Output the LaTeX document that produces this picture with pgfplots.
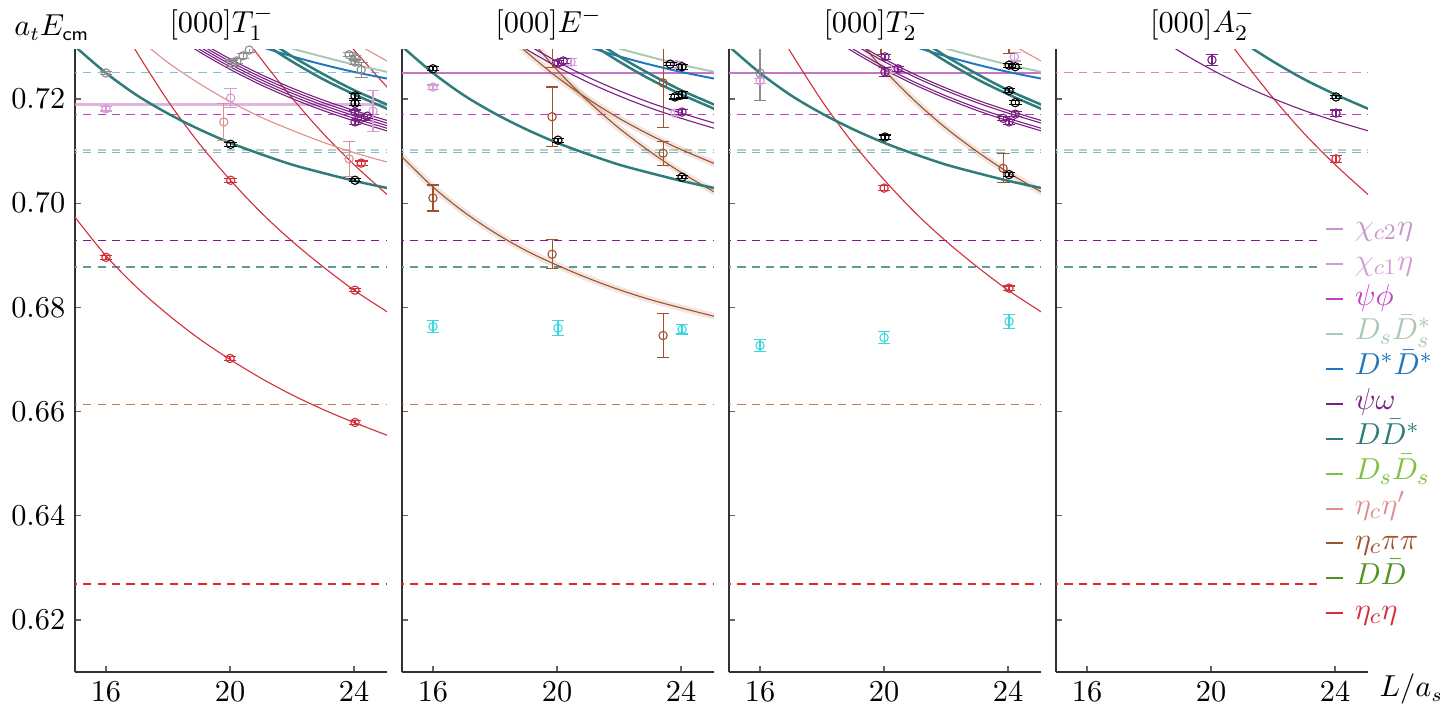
\documentclass[border=0pt]{standalone}
\usepackage{pgfplots}
\usepackage{pgfplotstable}
\pgfplotsset{compat=1.18}

% channel colours
\definecolor{chitwo}{HTML}{C994C9}
\definecolor{chione}{HTML}{D69CD6}
\definecolor{psiphi}{HTML}{C43CC4}
\definecolor{dsdsst}{HTML}{A9C9B3}
\definecolor{dstdst}{HTML}{1F77BF}
\definecolor{psiom}{HTML}{7B2083}
\definecolor{ddst}{HTML}{2E7D7A}
\definecolor{dsds}{HTML}{7DC242}
\definecolor{etaetap}{HTML}{E08E8E}
\definecolor{etapipi}{HTML}{A0522D}
\definecolor{dd}{HTML}{4F9422}
\definecolor{etaeta}{HTML}{D22F3A}
\definecolor{cyanpt}{HTML}{3CD8E2}
\definecolor{graypt}{HTML}{8C8C8C}
% threshold (dashed) colours
\definecolor{ltblue}{HTML}{86BEE2}
\definecolor{psiphiD}{HTML}{CC3ACC}
\definecolor{dsdsstD}{HTML}{B4D3BC}
\definecolor{dstdstD}{HTML}{7EB4DD}
\definecolor{psiomD}{HTML}{85168F}
\definecolor{ddstD}{HTML}{5E9C9A}
\definecolor{etaetapD}{HTML}{E89A9A}
\definecolor{etapipiD}{HTML}{C57A4A}
\definecolor{etaetaD}{HTML}{DD2A2A}
\definecolor{chitwoD}{HTML}{D488D4}
\definecolor{chitwoS}{HTML}{C574C8}

% psi omega non-interacting levels (bundle of nearby curves)
\pgfplotstableread{
L    pA     pB     pC     pD     pE
17.5 0.7372 0.7367 0.7362 0.7357 0.7352
18   0.7350 0.7345 0.7340 0.7335 0.7330
19   0.7311 0.7306 0.7301 0.7296 0.7291
20   0.7277 0.7272 0.7267 0.7262 0.7257
21   0.7247 0.7242 0.7237 0.7232 0.7227
22   0.7221 0.7216 0.7211 0.7206 0.7201
23   0.7198 0.7193 0.7188 0.7183 0.7178
24   0.7178 0.7173 0.7168 0.7163 0.7158
25   0.7160 0.7155 0.7150 0.7145 0.7140
25.1 0.7158 0.7153 0.7148 0.7143 0.7138
}\psiomega

\pgfplotsset{
  panel/.style={
    width=112.6pt, height=224.97pt, scale only axis,
    xmin=15, xmax=25.055, ymin=0.61, ymax=0.7296,
    axis x line*=bottom, axis y line*=left,
    axis line style={draw=black!80, line width=0.45pt},
    tick align=inside, major tick length=2.2pt,
    tick style={draw=black!60, line width=0.5pt},
    xtick={16,20,24}, ytick={0.62,0.64,0.66,0.68,0.70,0.72},
    yticklabel style={/pgf/number format/fixed, /pgf/number format/precision=2,
      /pgf/number format/fixed zerofill, font=\fontsize{10.5}{12}\selectfont},
    xticklabel style={anchor=base, yshift=-10.8pt, font=\fontsize{10.5}{12}\selectfont},
    title style={at={(0.47,1)}, anchor=base, yshift=0.1pt, font=\fontsize{11}{13}\selectfont},
    clip mode=individual,
  },
  thr/.style={forget plot, line width=0.42pt, dash pattern=on 3pt off 2.2pt},
  crv/.style={forget plot, smooth, line width=0.4pt},
  tcrv/.style={forget plot, smooth, line width=0.9pt},
  mcrv/.style={forget plot, smooth, line width=0.7pt},
  band/.style={forget plot, smooth, line width=2.4pt, draw=etapipi, draw opacity=0.15},
  pts/.style={forget plot, only marks, mark=o, mark size=1.5pt,
    mark options={fill=white, line width=0.4pt},
    error bars/.cd, y dir=both, y explicit,
    error bar style={line width=0.4pt},
    error mark options={rotate=90, mark size=2.3pt, line width=0.4pt}},
}

\newcommand{\thr}[2]{\addplot[thr, draw=#1] coordinates {(14.8,#2) (25.3,#2)};}
\newcommand{\commonthr}{%
  \thr{psiphiD}{0.7171}
  \thr{dsdsstD}{0.7102}
  \thr{dstdstD}{0.7097}
  \thr{psiomD}{0.6929}
  \thr{etaetapD}{0.68762}
  \thr{ddstD}{0.68775}
  \thr{etaetaD}{0.6269}
}
% D Dbar* levels with one and two units of momentum, D* Dbar*, Ds Dbar_s*
\newcommand{\ddstone}{\addplot[tcrv, draw=ddst] coordinates {(14.9,0.7307) (15,0.7301) (16,0.7250) (17,0.7207) (18,0.7172) (19,0.7142) (20,0.7116) (21,0.7094) (22,0.7074) (23,0.7058) (24,0.7043) (25,0.7030) (25.1,0.7029)};}
\newcommand{\ddsttwoa}{\addplot[tcrv, draw=ddst] coordinates {(20.5,0.7331) (21,0.7310) (22,0.7272) (23,0.7238) (24,0.7209) (25,0.7183) (25.1,0.7180)};}
\newcommand{\ddsttwob}{\addplot[tcrv, draw=ddst] coordinates {(20.5,0.7343) (21,0.7321) (22,0.7282) (23,0.7248) (24,0.7217) (25,0.7191) (25.1,0.7188)};}
\newcommand{\dstdstone}{\addplot[mcrv, draw=dstdst] coordinates {(20.5,0.7310) (21,0.7300) (22,0.7282) (23,0.7266) (24,0.7252) (25,0.7240) (25.1,0.7239)};}
\newcommand{\dsdsstone}{\addplot[mcrv, draw=dsdsst] coordinates {(20.5,0.7327) (21,0.7316) (22,0.7297) (23,0.7281) (24,0.7266) (25,0.7253) (25.1,0.7252)};}

\begin{document}
\begin{tikzpicture}[font=\fontsize{10.5}{12}\selectfont]

% ---------------- [000] T1- ----------------
\begin{axis}[panel, at={(0pt,0pt)}, anchor=south west, title={$[000]T_1^-$}]
\thr{ltblue}{0.7251}
\addplot[forget plot, draw=chione, line width=1.1pt, opacity=0.75] coordinates {(14.8,0.7190) (25.3,0.7190)};
\commonthr
\thr{etapipiD}{0.66135}
% eta_c eta
\addplot[crv, draw=etaeta] coordinates {(14.9,0.6981) (15,0.6973) (16,0.6899) (17,0.6838) (18,0.6786) (19,0.6740) (20,0.6700) (21,0.6664) (22,0.6632) (23,0.6604) (24,0.6579) (25,0.6556) (25.1,0.6554)};
\addplot[crv, draw=etaeta] coordinates {(16.5,0.7340) (17,0.7289) (18,0.7196) (19,0.7115) (20,0.7045) (21,0.6982) (22,0.6927) (23,0.6878) (24,0.6833) (25,0.6794) (25.1,0.6790)};
\addplot[crv, draw=etaeta] coordinates {(20,0.7361) (20.5,0.7318) (21,0.7277) (22,0.7202) (23,0.7134) (24,0.7074) (25,0.7020) (25.1,0.7015)};
\addplot[crv, draw=etaeta] coordinates {(23,0.7368) (23.5,0.7330) (24,0.7294) (25,0.7227) (25.1,0.7221)};
% eta_c eta'
\addplot[crv, draw=etaetap] coordinates {(16.5,0.7345) (17,0.7318) (18,0.7270) (19,0.7230) (20,0.7195) (21,0.7165) (22,0.7140) (23,0.7117) (24,0.7097) (25,0.7080) (25.1,0.7078)};
\addplot[crv, draw=etaetap] coordinates {(23,0.7348) (24,0.7309) (25,0.7275) (25.1,0.7272)};
% psi omega
\addplot[crv, draw=psiom] table[x=L, y=pA] {\psiomega};
\addplot[crv, draw=psiom] table[x=L, y=pB] {\psiomega};
\addplot[crv, draw=psiom] table[x=L, y=pC] {\psiomega};
\addplot[crv, draw=psiom] table[x=L, y=pD] {\psiomega};
\addplot[crv, draw=psiom] table[x=L, y=pE] {\psiomega};
\dsdsstone
\dstdstone
\ddsttwoa
\ddsttwob
\ddstone
% lattice levels
\addplot[color=graypt, pts] coordinates {(16,0.7250) +- (0,0.0003) (20.05,0.7269) +- (0,0.0006) (20.22,0.7273) +- (0,0.0005) (20.42,0.7283) +- (0,0.0005) (20.62,0.7294) +- (0,0.0005) (23.84,0.7285) +- (0,0.0004) (24.03,0.7279) +- (0,0.0004) (24.03,0.7271) +- (0,0.0004) (24.23,0.7256) +- (0,0.0014)};
\addplot[color=chione, pts] coordinates {(16,0.7181) +- (0,0.0004) (20.02,0.7202) +- (0,0.0018) (24.61,0.7177) +- (0,0.0040)};
\addplot[color=etaetap, pts] coordinates {(19.8,0.7156) +- (0,0.0035) (23.84,0.7085) +- (0,0.0033)};
\addplot[color=black, pts] coordinates {(20.02,0.7113) +- (0,0.0004) (24.03,0.7206) +- (0,0.0005) (24.03,0.7192) +- (0,0.0005) (24.03,0.7044) +- (0,0.0003)};
\addplot[color=etaeta, pts] coordinates {(16,0.6896) +- (0,0.0004) (20,0.6702) +- (0,0.0004) (24.03,0.6579) +- (0,0.0004) (24.03,0.6833) +- (0,0.0003) (20.02,0.7044) +- (0,0.0004) (24.23,0.7077) +- (0,0.0004)};
\addplot[color=psiom, pts] coordinates {(24.03,0.7175) +- (0,0.0004) (24.03,0.7156) +- (0,0.0005) (24.23,0.7163) +- (0,0.0004) (24.42,0.7167) +- (0,0.0004)};
\node[anchor=base west, inner sep=0pt] at (rel axis cs:-0.196,1.021) {$a_tE_{\mathsf{cm}}$};
\end{axis}

% ---------------- [000] E- ----------------
\begin{axis}[panel, at={(118.08pt,0pt)}, anchor=south west, title={$[000]E^-$}, yticklabels={}]
\addplot[forget plot, draw=chitwoS, line width=0.45pt] coordinates {(14.8,0.7250) (25.3,0.7250)};
\commonthr
\thr{etapipiD}{0.66135}
% eta_c pi pi
\addplot[band] coordinates {(14.9,0.7095) (15,0.7089) (16,0.7031) (17,0.6983) (18,0.6943) (19,0.6909) (20,0.6881) (21,0.6856) (22,0.6834) (23,0.6815) (24,0.6799) (25,0.6784) (25.1,0.6783)};
\addplot[crv, draw=etapipi] coordinates {(14.9,0.7095) (15,0.7089) (16,0.7031) (17,0.6983) (18,0.6943) (19,0.6909) (20,0.6881) (21,0.6856) (22,0.6834) (23,0.6815) (24,0.6799) (25,0.6784) (25.1,0.6783)};
\addplot[band] coordinates {(18.5,0.7364) (19,0.7325) (20,0.7256) (21,0.7196) (22,0.7144) (23,0.7099) (24,0.7059) (25,0.7024) (25.1,0.7021)};
\addplot[crv, draw=etapipi] coordinates {(18.5,0.7364) (19,0.7325) (20,0.7256) (21,0.7196) (22,0.7144) (23,0.7099) (24,0.7059) (25,0.7024) (25.1,0.7021)};
\addplot[band] coordinates {(18,0.7349) (18.5,0.7319) (19,0.7291) (20,0.7242) (21,0.7200) (22,0.7163) (23,0.7131) (24,0.7103) (25,0.7078) (25.1,0.7076)};
\addplot[crv, draw=etapipi] coordinates {(18,0.7349) (18.5,0.7319) (19,0.7291) (20,0.7242) (21,0.7200) (22,0.7163) (23,0.7131) (24,0.7103) (25,0.7078) (25.1,0.7076)};
\addplot[crv, draw=psiom] table[x=L, y=pB] {\psiomega};
\addplot[crv, draw=psiom] table[x=L, y=pD] {\psiomega};
\dsdsstone
\dstdstone
\ddsttwoa
\ddsttwob
\ddstone
\addplot[color=cyanpt, pts] coordinates {(16,0.6763) +- (0,0.0012) (20.03,0.6760) +- (0,0.0014) (24.03,0.6758) +- (0,0.0009)};
\addplot[color=etapipi, pts] coordinates {(16,0.7010) +- (0,0.0025) (19.84,0.7166) +- (0,0.0057) (19.84,0.7330) +- (0,0.0070) (19.84,0.6902) +- (0,0.0028) (23.42,0.7231) +- (0,0.0085) (23.42,0.7096) +- (0,0.0023) (23.42,0.6746) +- (0,0.0042)};
\addplot[color=chione, pts] coordinates {(16,0.7223) +- (0,0.0004) (20.45,0.7271) +- (0,0.0007) (23.85,0.7266) +- (0,0.0005) (23.8,0.7173) +- (0,0.0005)};
\addplot[color=psiom, pts] coordinates {(20.03,0.7269) +- (0,0.0005) (20.2,0.7273) +- (0,0.0005) (24.03,0.7175) +- (0,0.0005)};
\addplot[color=black, pts] coordinates {(16,0.7258) +- (0,0.0004) (20.03,0.7121) +- (0,0.0004) (23.65,0.7267) +- (0,0.0003) (24.03,0.7262) +- (0,0.0005) (23.8,0.7204) +- (0,0.0004) (24.03,0.7208) +- (0,0.0006) (24.03,0.7050) +- (0,0.0003)};
\end{axis}

% ---------------- [000] T2- ----------------
\begin{axis}[panel, at={(236.17pt,0pt)}, anchor=south west, title={$[000]T_2^-$}, yticklabels={}]
\addplot[forget plot, draw=chitwoS, line width=0.45pt] coordinates {(14.8,0.7250) (25.3,0.7250)};
\commonthr
\thr{etapipiD}{0.66135}
\addplot[crv, draw=etaeta] coordinates {(16.5,0.7340) (17,0.7289) (18,0.7196) (19,0.7115) (20,0.7045) (21,0.6982) (22,0.6927) (23,0.6878) (24,0.6833) (25,0.6794) (25.1,0.6790)};
\addplot[crv, draw=etaetap] coordinates {(23,0.7348) (24,0.7309) (25,0.7275) (25.1,0.7272)};
\addplot[band] coordinates {(18.5,0.7364) (19,0.7325) (20,0.7256) (21,0.7196) (22,0.7144) (23,0.7099) (24,0.7059) (25,0.7024) (25.1,0.7021)};
\addplot[crv, draw=etapipi] coordinates {(18.5,0.7364) (19,0.7325) (20,0.7256) (21,0.7196) (22,0.7144) (23,0.7099) (24,0.7059) (25,0.7024) (25.1,0.7021)};
\addplot[crv, draw=psiom] table[x=L, y=pA] {\psiomega};
\addplot[crv, draw=psiom] table[x=L, y=pB] {\psiomega};
\addplot[crv, draw=psiom] table[x=L, y=pD] {\psiomega};
\addplot[crv, draw=psiom] table[x=L, y=pE] {\psiomega};
\dsdsstone
\dstdstone
\ddsttwoa
\ddsttwob
\ddstone
\addplot[color=graypt, pts] coordinates {(16,0.7250) +- (0,0.0052)};
\addplot[color=chione, pts] coordinates {(16,0.7235) +- (0,0.0005) (20.25,0.7256) +- (0,0.0005) (24.2,0.7281) +- (0,0.0008)};
\addplot[color=cyanpt, pts] coordinates {(16,0.6727) +- (0,0.0011) (20.0,0.6742) +- (0,0.0012) (24.03,0.6773) +- (0,0.0014)};
\addplot[color=etapipi, pts] coordinates {(23.84,0.7067) +- (0,0.0028) (19.9,0.7340) +- (0,0.0055) (24.03,0.7340) +- (0,0.0052)};
\addplot[color=etaeta, pts] coordinates {(20.0,0.7029) +- (0,0.0005) (24.03,0.6837) +- (0,0.0004)};
\addplot[color=psiom, pts] coordinates {(20.03,0.7281) +- (0,0.0005) (20.03,0.7252) +- (0,0.0008) (20.45,0.7258) +- (0,0.0005) (23.84,0.7163) +- (0,0.0004) (24.03,0.7156) +- (0,0.0005) (24.23,0.7171) +- (0,0.0005)};
\addplot[color=black, pts] coordinates {(20.03,0.7127) +- (0,0.0004) (24.03,0.7265) +- (0,0.0004) (24.23,0.7262) +- (0,0.0004) (24.03,0.7216) +- (0,0.0004) (24.23,0.7193) +- (0,0.0004) (24.03,0.7055) +- (0,0.0004)};
\end{axis}

% ---------------- [000] A2- ----------------
\begin{axis}[panel, at={(354.25pt,0pt)}, anchor=south west, title={$[000]A_2^-$}, yticklabels={},
  legend style={at={(0.837,0.742)}, anchor=north west, fill=white, draw=none,
    inner xsep=2.6pt, inner ysep=1pt, row sep=0pt, column sep=3.4pt,
    nodes={inner xsep=0.6pt, inner ysep=0pt, text height=8pt, text depth=4.6pt},
    font=\fontsize{11}{13}\selectfont},
  legend cell align=left,
  legend image code/.code={\draw[#1, line width=0.75pt] (0pt,0.4pt) -- (6.1pt,0.4pt);}]
\thr{chitwoD}{0.7251}
\commonthr
\addplot[crv, draw=etaeta] coordinates {(20,0.7361) (20.5,0.7318) (21,0.7277) (22,0.7202) (23,0.7134) (24,0.7074) (25,0.7020) (25.1,0.7015)};
\addplot[crv, draw=psiom] table[x=L, y=pE] {\psiomega};
\ddsttwoa
\addplot[color=psiom, pts] coordinates {(20.03,0.7275) +- (0,0.0010) (24.03,0.7173) +- (0,0.0006)};
\addplot[color=black, pts] coordinates {(24.03,0.7204) +- (0,0.0003)};
\addplot[color=etaeta, pts] coordinates {(24.03,0.7085) +- (0,0.0007)};
\addlegendimage{color=chitwo}\addlegendentry{\textcolor{chitwo}{$\chi_{c2}\eta$}}
\addlegendimage{color=chione}\addlegendentry{\textcolor{chione}{$\chi_{c1}\eta$}}
\addlegendimage{color=psiphi}\addlegendentry{\textcolor{psiphi}{$\psi\phi$}}
\addlegendimage{color=dsdsst}\addlegendentry{\textcolor{dsdsst}{$D_s\bar{D}_s^*$}}
\addlegendimage{color=dstdst}\addlegendentry{\textcolor{dstdst}{$D^*\bar{D}^*$}}
\addlegendimage{color=psiom}\addlegendentry{\textcolor{psiom}{$\psi\omega$}}
\addlegendimage{color=ddst}\addlegendentry{\textcolor{ddst}{$D\bar{D}^*$}}
\addlegendimage{color=dsds}\addlegendentry{\textcolor{dsds}{$D_s\bar{D}_s$}}
\addlegendimage{color=etaetap}\addlegendentry{\textcolor{etaetap}{$\eta_c\eta'$}}
\addlegendimage{color=etapipi}\addlegendentry{\textcolor{etapipi}{$\eta_c\pi\pi$}}
\addlegendimage{color=dd}\addlegendentry{\textcolor{dd}{$D\bar{D}$}}
\addlegendimage{color=etaeta}\addlegendentry{\textcolor{etaeta}{$\eta_c\eta$}}
\node[anchor=base west, inner sep=0pt] at (rel axis cs:1.036,-0.0401) {$L/a_s$};
\end{axis}

\pgfresetboundingbox
\path[use as bounding box] (-27.08pt,-12.64pt) rectangle (492.92pt,242.67pt);
\end{tikzpicture}
\end{document}
